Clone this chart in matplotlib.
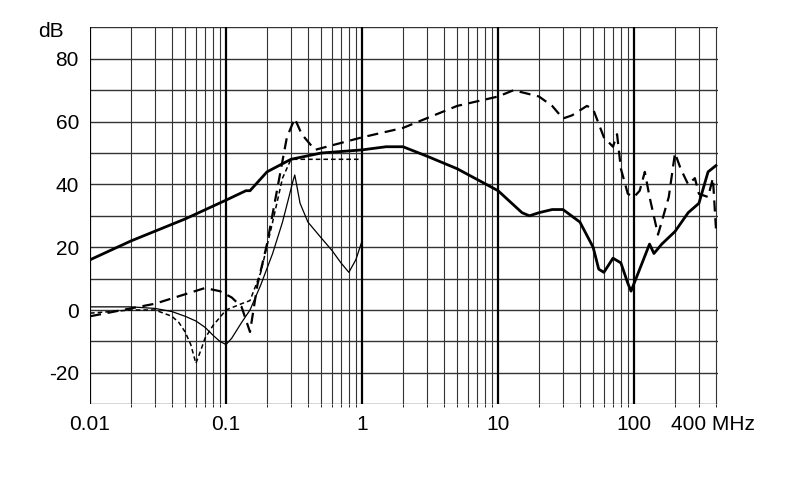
import numpy as np
import matplotlib
matplotlib.use('Agg')
import matplotlib.pyplot as plt
from matplotlib.ticker import FixedLocator, NullFormatter

plt.rcParams['font.family'] = ['Liberation Sans', 'DejaVu Sans']

# thick solid
f1 = [0.01, 0.02, 0.05, 0.1, 0.14, 0.15, 0.2, 0.3, 0.5, 1, 1.5, 2, 3, 5, 10, 15, 17, 20, 25, 30, 40, 50, 55, 60, 70, 80, 90, 95, 110, 130, 140, 160, 200, 250, 300, 350, 400]
d1 = [16, 22, 29, 35, 38, 38, 44, 48, 50, 51, 52, 52, 49, 45, 38, 31, 30, 31, 32, 32, 28, 20, 13, 12, 16.5, 15, 8.5, 6, 13, 21, 18, 21, 25, 31, 34, 44, 46]
# thick dashed
f2 = [0.01, 0.03, 0.07, 0.09, 0.11, 0.13, 0.15, 0.17, 0.2, 0.28, 0.32, 0.36, 0.45, 1, 2, 5, 10, 13, 20, 25, 30, 35, 45, 50, 60, 70, 75, 80, 90, 100, 110, 120, 130, 150, 180, 200, 220, 250, 280, 300, 350, 380, 400]
d2 = [-2, 2, 7, 6, 4, 1, -7, 8, 21, 55, 61, 56, 51, 55, 58, 65, 68, 70, 68, 65, 61, 62, 65, 64, 55, 52, 56, 45, 37, 36, 38, 44, 36, 24, 36, 50, 45, 40, 42, 37, 36, 42, 26]
# thin dotted
f3 = [0.01, 0.02, 0.03, 0.04, 0.045, 0.05, 0.055, 0.06, 0.065, 0.07, 0.08, 0.1, 0.13, 0.15, 0.18, 0.22, 0.26, 0.3, 0.5, 1]
d3 = [-1, 0, 0, -2, -4, -7, -11, -17, -13, -9, -5, 0, 2, 3, 12, 28, 42, 48, 48, 48]
# thin solid
f4 = [0.01, 0.02, 0.03, 0.04, 0.05, 0.06, 0.07, 0.08, 0.09, 0.1, 0.11, 0.13, 0.15, 0.18, 0.22, 0.26, 0.29, 0.31, 0.32, 0.33, 0.35, 0.4, 0.5, 0.6, 0.7, 0.8, 0.9, 1]
d4 = [1, 1, 0.5, -0.5, -2, -3.5, -5.5, -8, -10, -11, -9, -4, 0, 8, 18, 28, 36, 41, 43, 40, 34, 28, 23, 19, 15, 12, 16, 22]

fig = plt.figure(figsize=(7.9, 4.99), dpi=100)
ax = fig.add_axes([0.114, 0.19, 0.795, 0.755])

ax.plot(f1, d1, 'k-', lw=2)
ax.plot(f2, d2, 'k--', lw=1.6, dashes=(5, 3))
ax.plot(f3, d3, 'k--', lw=1.1, dashes=(3, 2))
ax.plot(f4, d4, 'k-', lw=0.9)

ax.set_xscale('log')
ax.set_xlim(0.01, 415)
ax.set_ylim(-30, 90)
minor = [m * 10.0**e for e in range(-2, 3) for m in range(2, 10) if m * 10.0**e < 415]
ax.xaxis.set_minor_locator(FixedLocator(minor))
ax.xaxis.set_minor_formatter(NullFormatter())
ax.set_xticks([0.01, 0.1, 1, 10, 100, 380])
ax.set_xticklabels(['0.01', '0.1', '1', '10', '100', '400 MHz'], fontsize=15)
ax.set_yticks(np.arange(-30, 91, 10))
ax.set_yticklabels(['', '-20', '', '0', '', '20', '', '40', '', '60', '', '80', ''], fontsize=15)
ax.tick_params(length=0, pad=8)
ax.grid(which='major', axis='y', color='#333333', lw=1)
ax.grid(which='minor', axis='x', color='#333333', lw=0.8)
for x in [0.01, 0.1, 1, 10, 100]:
    ax.axvline(x, color='k', lw=1.6)
for s in ax.spines.values():
    s.set_visible(False)
fig.text(0.048, 0.925, 'dB', fontsize=15)

plt.savefig('out.png')
